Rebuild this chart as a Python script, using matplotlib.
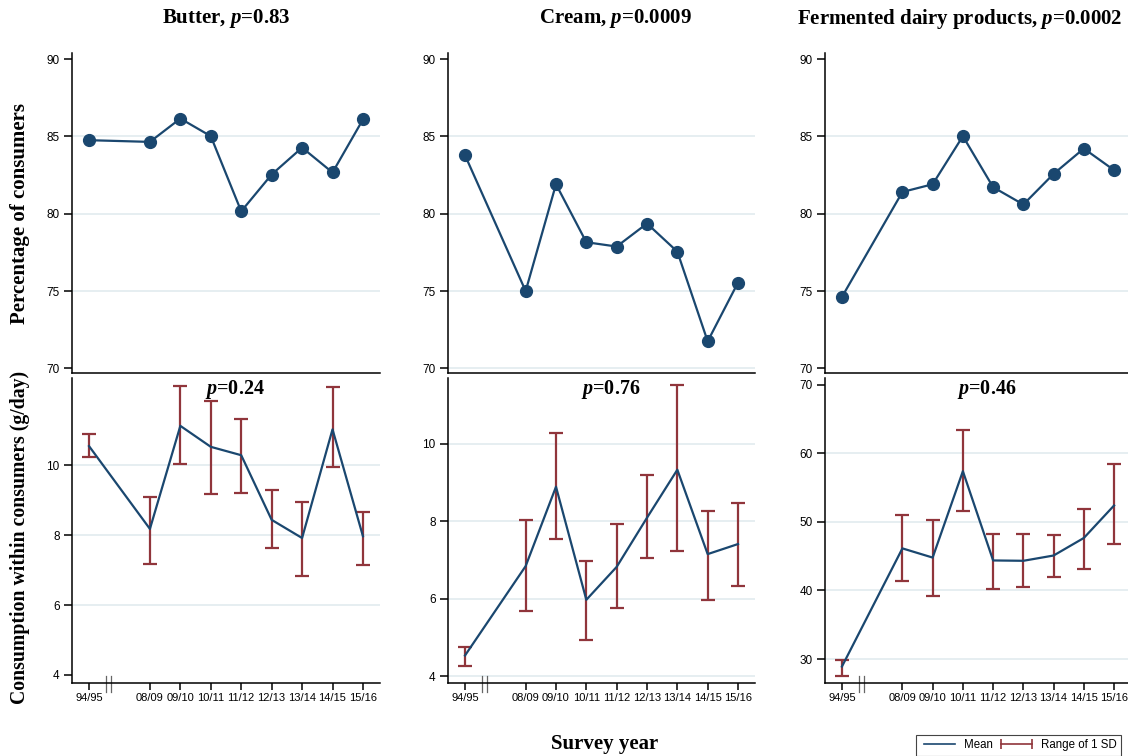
import numpy as np
import matplotlib
matplotlib.use("Agg")
import matplotlib.pyplot as plt
from matplotlib.lines import Line2D

plt.rcParams["font.family"] = ["Liberation Sans", "DejaVu Sans"]
plt.rcParams["mathtext.fontset"] = "custom"
plt.rcParams["mathtext.rm"] = "Liberation Serif:bold"
plt.rcParams["mathtext.bfit"] = "Liberation Serif:italic:bold"


# --- DATA ---

survey_years = ["94/95", "08/09", "09/10", "10/11", "11/12", "12/13", "13/14", "14/15", "15/16"]
products = ["Butter", "Cream", "Fermented dairy products"]
p_consumers = ["0.83", "0.0009", "0.0002"]
p_intake = ["0.24", "0.76", "0.46"]

# percentage of consumers per survey year
butter_pct = [84.76, 84.65, 86.16, 85.02, 80.16, 82.54, 84.28, 82.67, 86.10]
cream_pct = [83.79, 75.00, 81.91, 78.16, 77.88, 79.37, 77.55, 71.75, 75.55]
fermented_pct = [74.62, 81.41, 81.91, 85.02, 81.72, 80.60, 82.58, 84.22, 82.82]

# consumption within consumers (g/day): mean and range of 1 SD
butter_mean = [10.55, 8.18, 11.13, 10.53, 10.29, 8.44, 7.92, 11.03, 7.97]
butter_low = [10.23, 7.19, 10.05, 9.18, 9.20, 7.62, 6.82, 9.95, 7.16]
butter_high = [10.91, 9.08, 12.26, 11.85, 11.34, 9.28, 8.95, 12.24, 8.67]

cream_mean = [4.53, 6.84, 8.89, 5.97, 6.82, 8.09, 9.33, 7.15, 7.41]
cream_low = [4.27, 5.69, 7.55, 4.92, 5.76, 7.04, 7.23, 5.97, 6.32]
cream_high = [4.75, 8.03, 10.29, 6.98, 7.94, 9.20, 11.51, 8.27, 8.48]

fermented_mean = [28.9, 46.14, 44.8, 57.4, 44.38, 44.33, 45.1, 47.66, 52.4]
fermented_low = [27.5, 41.4, 39.15, 51.53, 40.22, 40.47, 41.9, 43.1, 46.8]
fermented_high = [29.8, 50.94, 50.3, 63.42, 48.2, 48.2, 48.1, 51.9, 58.4]


# --- STYLE ---

NAVY = "#1a476f"
MAROON = "#90353b"
GRID = "#e6eef1"
SERIF = "Liberation Serif"

pct_series = [butter_pct, cream_pct, fermented_pct]
intake_series = [
    (butter_mean, butter_low, butter_high),
    (cream_mean, cream_low, cream_high),
    (fermented_mean, fermented_low, fermented_high),
]
intake_ylim = [(3.77, 12.5), (3.82, 11.7), (26.5, 71.0)]
intake_ticks = [[4, 6, 8, 10], [4, 6, 8, 10], [30, 40, 50, 60, 70]]
intake_grid = [[6, 8, 10], [4, 6, 8, 10], [30, 40, 50, 60]]
pct_grid = [[75, 80, 85], [70, 75, 80, 85], [75, 80, 85]]

# first survey stands apart from the yearly series, so leave a gap after it
xpos = np.r_[0, np.arange(2, len(survey_years) + 1)]

W, H = 1128, 756
fig = plt.figure(figsize=(W / 100, H / 100), dpi=100)

lefts = [72, 448, 825]
widths = [308, 307, 306]
title_x = [226, 615, 960]


def style_axis(ax):
    for side in ["top", "right"]:
        ax.spines[side].set_visible(False)
    for side in ["left", "bottom"]:
        ax.spines[side].set_linewidth(1.1)
    ax.tick_params(axis="y", direction="out", length=6, width=1.1, labelsize=8.5, pad=3)
    ax.set_xlim(-0.56, 9.56)


for i in range(3):
    left = lefts[i] / W
    width = widths[i] / W

    # --- top row: percentage of consumers ---
    ax = fig.add_axes([left, 1 - 373 / H, width, (373 - 53) / H])
    style_axis(ax)
    for g in pct_grid[i]:
        ax.axhline(g, color=GRID, lw=1.4, zorder=0)
    ax.plot(xpos, pct_series[i], color=NAVY, lw=1.6, marker="o", ms=8.5, zorder=3)
    ax.set_ylim(69.7, 90.4)
    ax.set_yticks([70, 75, 80, 85, 90])
    ax.set_xticks([])
    fig.text(title_x[i] / W, 1 - 19 / H, products[i] + ", $\\mathbfit{p}$=" + p_consumers[i],
             ha="center", va="center", fontfamily=SERIF, fontweight="bold", fontsize=15)

    # --- bottom row: consumption within consumers ---
    ax2 = fig.add_axes([left, 1 - 683 / H, width, (683 - 378) / H])
    style_axis(ax2)
    mean, low, high = intake_series[i]
    mean = np.array(mean)
    err = [mean - np.array(low), np.array(high) - mean]
    for g in intake_grid[i]:
        ax2.axhline(g, color=GRID, lw=1.4, zorder=0)
    ax2.plot(xpos, mean, color=NAVY, lw=1.6, zorder=3)
    ax2.errorbar(xpos, mean, yerr=err, fmt="none", ecolor=MAROON,
                 elinewidth=1.6, capsize=4.8, capthick=1.6, zorder=2)
    ax2.set_ylim(*intake_ylim[i])
    ax2.set_yticks(intake_ticks[i])
    ax2.set_xticks(xpos)
    ax2.set_xticklabels(survey_years)
    ax2.tick_params(axis="x", direction="out", length=5, width=1.1, labelsize=8, pad=2)
    ax2.text(0.53, 0.962, "$\\mathbfit{p}$=" + p_intake[i], transform=ax2.transAxes,
             ha="center", va="center", fontfamily=SERIF, fontweight="bold", fontsize=14.5)

    # axis break marks between the first survey and the rest
    for xb in [0.56, 0.72]:
        ax2.plot([xb, xb], [-0.028, 0.022], transform=ax2.get_xaxis_transform(),
                 color="#666666", lw=0.9, clip_on=False)

fig.text(20 / W, 1 - 214 / H, "Percentage of consumers", rotation=90,
         ha="center", va="center", fontfamily=SERIF, fontweight="bold", fontsize=15)
fig.text(20 / W, 1 - 537 / H, "Consumption within consumers (g/day)", rotation=90,
         ha="center", va="center", fontfamily=SERIF, fontweight="bold", fontsize=14.2)
fig.text(605 / W, 1 - 744 / H, "Survey year", ha="center", va="center",
         fontfamily=SERIF, fontweight="bold", fontsize=15)

handles = [
    Line2D([], [], color=NAVY, lw=1.2),
    Line2D([], [], color=MAROON, lw=1.2, marker="|", ms=7, mew=1.2),
]
leg = fig.legend(handles, ["Mean", "Range of 1 SD"], loc="lower left",
                 bbox_to_anchor=(916 / W, 0.0), ncol=2, numpoints=2, fontsize=8.3,
                 handlelength=3.3, columnspacing=0.4, handletextpad=0.45,
                 borderaxespad=0.0, borderpad=0.4, fancybox=False,
                 edgecolor="#444444", framealpha=1)
leg.get_frame().set_linewidth(0.8)

fig.savefig("out.png", dpi=100)
